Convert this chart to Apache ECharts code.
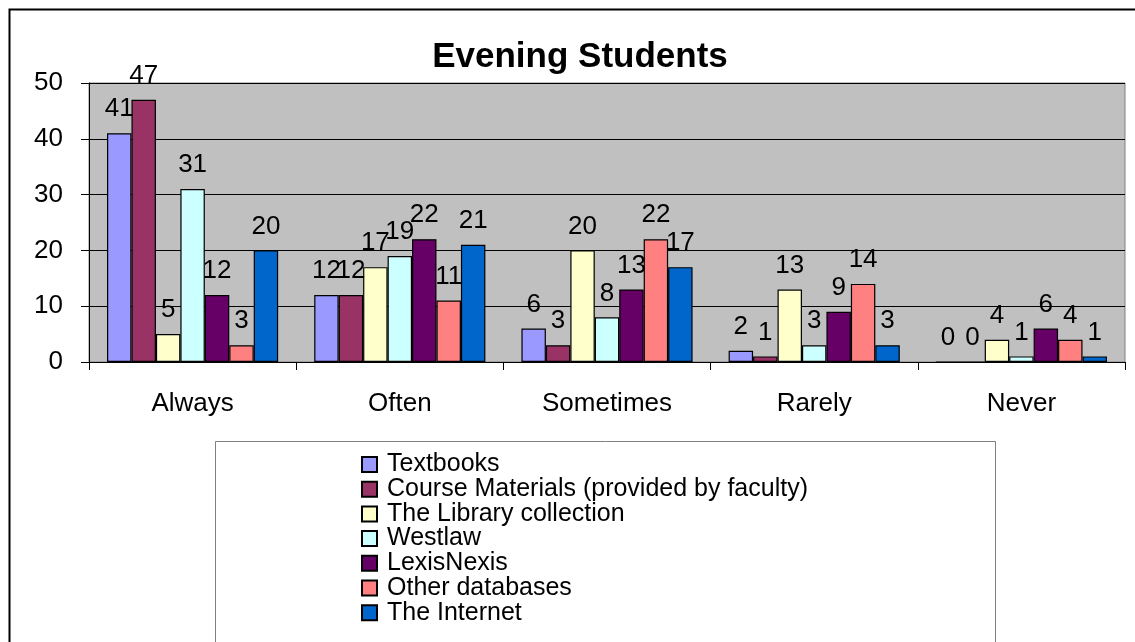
<!DOCTYPE html>
<html>
<head>
<meta charset="utf-8">
<script src="https://cdn.jsdelivr.net/npm/echarts@6/dist/echarts.min.js"></script>
<style>
html,body{margin:0;padding:0;background:#fff;}
#chart{width:1135px;height:642px;}
</style>
</head>
<body>
<div id="chart"></div>
<script>
const categories = ['Always', 'Often', 'Sometimes', 'Rarely', 'Never'];
const seriesNames = ['Textbooks', 'Course Materials (provided by faculty)', 'The Library collection', 'Westlaw', 'LexisNexis', 'Other databases', 'The Internet'];
const textbooks = [41, 12, 6, 2, 0];
const courseMaterials = [47, 12, 3, 1, 0];
const libraryCollection = [5, 17, 20, 13, 4];
const westlaw = [31, 19, 8, 3, 1];
const lexisNexis = [12, 22, 13, 9, 6];
const otherDatabases = [3, 11, 22, 14, 4];
const internet = [20, 21, 17, 3, 1];
const seriesColors = ['#9999FF', '#993366', '#FFFFCC', '#CCFFFF', '#660066', '#FF8080', '#0066CC'];
const yTicks = [0, 10, 20, 30, 40, 50];

const seriesData = [textbooks, courseMaterials, libraryCollection, westlaw, lexisNexis, otherDatabases, internet];
const FONT = 'Liberation Sans, Arial, sans-serif';

const chart = echarts.init(document.getElementById('chart'), null, {renderer: 'canvas'});
chart.setOption({
  backgroundColor: '#ffffff',
  animation: false,
  title: {
    text: 'Evening Students',
    left: 575, textAlign: 'center',
    top: 35,
    textStyle: {fontFamily: FONT, fontSize: 35, fontWeight: 'bold', color: '#000'}
  },
  graphic: [
    {type: 'rect', shape: {x: 9.5, y: 9.5, width: 1140, height: 660}, style: {fill: null, stroke: '#000', lineWidth: 2}, z: -10},
    {type: 'rect', shape: {x: 215.5, y: 441.5, width: 780, height: 220}, style: {fill: '#fff', stroke: '#808080', lineWidth: 1}, z: -5}
  ],
  legend: {
    orient: 'vertical',
    left: 356, top: 447,
    itemWidth: 15, itemHeight: 15,
    itemGap: -0.3,
    icon: 'rect',
    textStyle: {fontFamily: FONT, fontSize: 25, color: '#000', lineHeight: 23.2, padding: [0, 0, 0, 5]},
    data: seriesNames
  },
  grid: {
    left: 89, right: 10, top: 83, bottom: 280,
    show: true, backgroundColor: '#C0C0C0', borderColor: '#808080', borderWidth: 1
  },
  xAxis: {
    type: 'category',
    data: categories,
    axisLine: {lineStyle: {color: '#000', width: 1}},
    axisTick: {show: true, length: 8, lineStyle: {color: '#000'}},
    axisLabel: {fontFamily: FONT, fontSize: 26, color: '#000', margin: 29},
    splitLine: {show: false}
  },
  yAxis: {
    type: 'value',
    min: yTicks[0], max: yTicks[yTicks.length - 1], interval: 10,
    axisLine: {show: true, lineStyle: {color: '#000', width: 1}},
    axisTick: {show: true, length: 8, lineStyle: {color: '#000'}},
    axisLabel: {fontFamily: FONT, fontSize: 26, color: '#000', margin: 26},
    splitLine: {show: true, lineStyle: {color: '#000', width: 1}}
  },
  series: seriesNames.map((name, i) => ({
    name: name,
    type: 'bar',
    data: seriesData[i],
    barGap: '0%',
    barCategoryGap: '17.4%',
    itemStyle: {color: seriesColors[i], borderColor: '#000', borderWidth: 1.2},
    label: {show: true, position: 'top', distance: 11, fontFamily: FONT, fontSize: 26, color: '#000'}
  }))
});
</script>
</body>
</html>
